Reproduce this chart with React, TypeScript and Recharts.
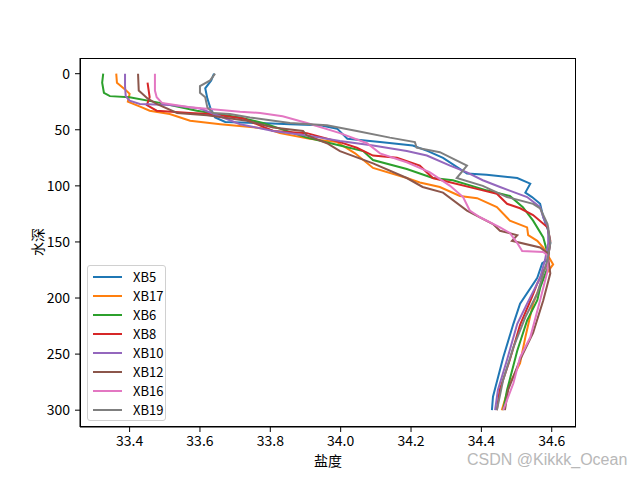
import { ScatterChart, Scatter, XAxis, YAxis } from 'recharts';

const FONT = '"Noto Sans CJK SC", "Noto Sans", sans-serif';

// each row: [depth (m), salinity]
const xb5 = [
  [0, 33.64], [6, 33.632], [13, 33.615], [22, 33.621], [30, 33.629], [39, 33.643],
  [43, 33.672], [44, 33.771], [45, 33.856], [46, 33.942], [49, 33.99], [58, 34.019],
  [61, 34.112], [64, 34.205], [69, 34.248], [75, 34.291], [89, 34.359], [90, 34.415],
  [93, 34.502], [98, 34.539], [106, 34.525], [110, 34.544], [116, 34.567], [128, 34.576],
  [140, 34.59], [151, 34.596], [166, 34.588], [169, 34.573], [182, 34.559], [205, 34.51],
  [223, 34.491], [253, 34.462], [288, 34.433], [300, 34.43],
];
const xb17 = [
  [0, 33.362], [8, 33.364], [14, 33.387], [18, 33.4], [25, 33.395], [30, 33.435],
  [33, 33.457], [36, 33.514], [42, 33.572], [45, 33.658], [49, 33.79], [53, 33.827],
  [58, 33.912], [61, 33.99], [71, 34.041], [84, 34.092], [93, 34.188], [97, 34.225],
  [101, 34.282], [109, 34.339], [111, 34.388], [119, 34.444], [131, 34.481], [137, 34.53],
  [144, 34.533], [149, 34.559], [155, 34.576], [170, 34.604], [182, 34.576], [205, 34.547],
  [235, 34.525], [258, 34.51], [276, 34.481], [300, 34.458],
];
const xb6 = [
  [0, 33.325], [8, 33.322], [17, 33.327], [20, 33.344], [21, 33.4], [26, 33.486],
  [33, 33.591], [39, 33.714], [44, 33.779], [57, 33.904], [64, 33.998], [69, 34.064],
  [77, 34.092], [85, 34.188], [93, 34.262], [95, 34.319], [104, 34.415], [109, 34.481],
  [119, 34.518], [131, 34.547], [146, 34.576], [160, 34.588], [173, 34.588], [191, 34.567],
  [202, 34.559], [220, 34.53], [247, 34.502], [282, 34.473], [300, 34.462],
];
const xb8 = [
  [8, 33.451], [21, 33.457], [28, 33.449], [33, 33.477], [35, 33.572], [36, 33.629],
  [40, 33.723], [51, 33.808], [53, 33.904], [61, 33.998], [66, 34.046], [73, 34.092],
  [75, 34.16], [82, 34.225], [93, 34.262], [104, 34.404], [107, 34.444], [116, 34.473],
  [120, 34.51], [126, 34.547], [137, 34.588], [149, 34.596], [169, 34.588], [187, 34.559],
  [199, 34.544], [224, 34.51], [255, 34.481], [282, 34.452], [300, 34.444],
];
const xb10 = [
  [0, 33.387], [11, 33.387], [20, 33.389], [24, 33.4], [27, 33.429], [28, 33.514],
  [31, 33.6], [45, 33.714], [51, 33.808], [55, 33.904], [60, 33.998], [64, 34.092],
  [69, 34.188], [73, 34.245], [82, 34.311], [88, 34.359], [95, 34.404], [101, 34.453],
  [110, 34.53], [119, 34.567], [128, 34.576], [137, 34.59], [151, 34.59], [166, 34.581],
  [182, 34.567], [205, 34.53], [223, 34.502], [255, 34.473], [282, 34.447], [300, 34.439],
];
const xb12 = [
  [0, 33.424], [15, 33.426], [22, 33.451], [27, 33.477], [35, 33.535], [37, 33.62],
  [42, 33.734], [48, 33.808], [51, 33.893], [55, 33.904], [62, 33.961], [69, 33.998],
  [80, 34.092], [93, 34.188], [101, 34.233], [106, 34.291], [122, 34.359], [134, 34.433],
  [140, 34.453], [144, 34.502], [149, 34.487], [155, 34.567], [160, 34.588], [178, 34.596],
  [202, 34.576], [231, 34.547], [255, 34.51], [282, 34.476], [300, 34.467],
];
const xb16 = [
  [0, 33.472], [15, 33.472], [21, 33.477], [26, 33.492], [30, 33.572], [34, 33.714],
  [35, 33.771], [38, 33.835], [44, 33.904], [53, 33.998], [62, 34.075], [71, 34.112],
  [77, 34.168], [79, 34.188], [88, 34.254], [100, 34.311], [110, 34.348], [122, 34.367],
  [128, 34.396], [137, 34.453], [142, 34.481], [151, 34.502], [158, 34.516], [159, 34.576],
  [162, 34.588], [176, 34.588], [202, 34.567], [235, 34.539], [253, 34.51], [276, 34.491],
  [300, 34.462],
];
const xb19 = [
  [0, 33.643], [6, 33.629], [11, 33.6], [17, 33.6], [21, 33.615], [30, 33.621],
  [35, 33.637], [36, 33.685], [39, 33.742], [44, 33.856], [46, 33.961], [51, 34.046],
  [57, 34.14], [61, 34.211], [66, 34.216], [70, 34.282], [82, 34.359], [93, 34.33],
  [100, 34.404], [110, 34.473], [116, 34.547], [120, 34.567], [134, 34.588], [151, 34.596],
  [166, 34.588], [196, 34.559], [217, 34.525], [244, 34.491], [273, 34.462], [300, 34.444],
];

const seriesNames = ['XB5', 'XB17', 'XB6', 'XB8', 'XB10', 'XB12', 'XB16', 'XB19'];
const seriesData = [xb5, xb17, xb6, xb8, xb10, xb12, xb16, xb19];
const seriesColors = ['#1f77b4', '#ff7f0e', '#2ca02c', '#d62728', '#9467bd', '#8c564b', '#e377c2', '#7f7f7f'];

const xTicks = [33.4, 33.6, 33.8, 34.0, 34.2, 34.4, 34.6];
const yTicks = [0, 50, 100, 150, 200, 250, 300];
const xDomain = [33.259, 34.669];
const yDomain = [-14, 315];

const toPoints = (rows: number[][]) => rows.map(([d, s]) => ({ d, s }));
const noDot = () => <g />;

const tickStyle = { fill: '#000', fontSize: 14, fontFamily: FONT };

const xTitle = () => (
  <text x={328} y={460} textAnchor="middle" dominantBaseline="central" fontSize={14} fontFamily={FONT} fill="#000">
    盐度
  </text>
);
const yTitle = () => (
  <text x={37} y={242} transform="rotate(-90 37 242)" textAnchor="middle" dominantBaseline="central" fontSize={14} fontFamily={FONT} fill="#000">
    水深
  </text>
);

export default function App() {
  return (
    <div style={{ position: 'absolute', left: 0, top: 0, width: 640, height: 480, background: '#fff' }}>
      <ScatterChart width={640} height={480} margin={{ top: 58, right: 64, bottom: 0, left: 0 }}>
        <XAxis
          type="number"
          dataKey="s"
          domain={xDomain}
          allowDataOverflow
          ticks={xTicks}
          tickFormatter={(v: number) => v.toFixed(1)}
          height={53}
          tickSize={5}
          tickMargin={4}
          tick={tickStyle}
          stroke="#000"
          label={xTitle}
        />
        <YAxis
          type="number"
          dataKey="d"
          domain={yDomain}
          allowDataOverflow
          reversed
          ticks={yTicks}
          width={80}
          tickSize={5}
          tickMargin={5}
          tick={tickStyle}
          stroke="#000"
          label={yTitle}
        />
        {seriesData.map((rows, i) => (
          <Scatter
            key={seriesNames[i]}
            name={seriesNames[i]}
            data={toPoints(rows)}
            fill={seriesColors[i]}
            line={{ stroke: seriesColors[i], strokeWidth: 2 }}
            lineJointType="linear"
            shape={noDot}
            isAnimationActive={false}
          />
        ))}
      </ScatterChart>

      {/* axes frame (matplotlib draws all four spines) */}
      <div style={{ position: 'absolute', left: 80, top: 58, width: 496, height: 369, boxSizing: 'border-box', border: '1px solid #000', pointerEvents: 'none' }} />

      <div
        style={{
          position: 'absolute', left: 87, top: 265, width: 77, height: 154,
          border: '1px solid #d0d0d0', borderRadius: 3, background: 'rgba(255,255,255,0.8)',
          fontFamily: FONT, fontSize: 13, color: '#000',
        }}
      >
        {seriesNames.map((name, i) => (
          <div key={name} style={{ position: 'absolute', left: 0, top: 1 + i * 19, height: 19, display: 'flex', alignItems: 'center' }}>
            <div style={{ marginLeft: 5, width: 29, height: 2, background: seriesColors[i] }} />
            <span style={{ marginLeft: 11, lineHeight: '19px' }}>{name}</span>
          </div>
        ))}
      </div>

      <div style={{ position: 'absolute', left: 467, top: 451, fontFamily: '"Liberation Sans", Arial, sans-serif', fontSize: 16, color: '#b8b8b8', whiteSpace: 'nowrap' }}>
        CSDN @Kikkk_Ocean
      </div>
    </div>
  );
}
